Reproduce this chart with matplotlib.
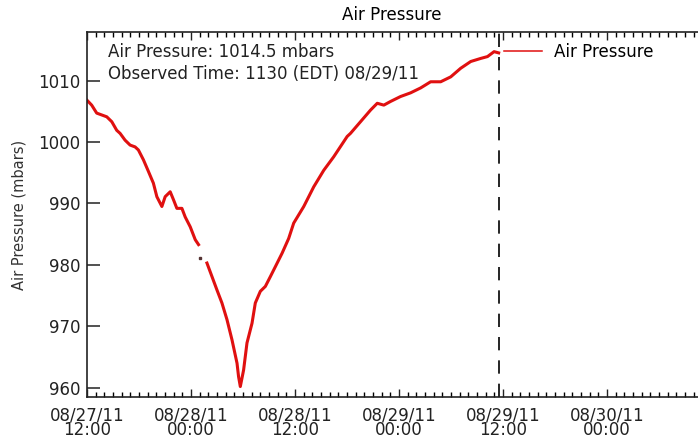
import numpy as np
import pandas as pd
import matplotlib
matplotlib.use("Agg")
import matplotlib.pyplot as plt
import matplotlib.dates as mdates

# hours after 08/27/11 12:00 EDT, pressure in mbars
hours = [0.0, 0.54, 1.12, 1.70, 2.28, 2.86, 3.43, 3.82, 4.39, 4.97, 5.55, 5.93,
         6.51, 7.09, 7.66, 8.06, 8.64, 9.02, 9.60, 9.98, 10.37, 10.95, 11.33, 11.91,
         12.49, 12.87, 13.0,
         13.84, 14.42, 15.0, 15.57, 16.15, 16.73, 17.31, 17.49, 17.69, 18.07, 18.46,
         19.04, 19.42, 20.0, 20.58, 21.16, 21.73, 22.51, 23.27, 23.85, 25.01, 26.16,
         27.32, 28.47, 30.02, 30.40, 31.56, 32.72, 33.49, 34.25, 35.03, 36.18, 37.34,
         38.5, 39.65, 40.81, 41.97, 43.12, 44.28, 45.43, 46.21, 46.97, 47.5]
pressure = [1006.8, 1006.0, 1004.7, 1004.4, 1004.1, 1003.3, 1001.9, 1001.4, 1000.3,
            999.5, 999.2, 998.7, 997.1, 995.2, 993.3, 991.1, 989.5, 991.1, 991.9,
            990.6, 989.2, 989.2, 987.8, 986.2, 984.1, 983.3, np.nan,
            980.3, 978.1, 975.9, 973.8, 971.1, 967.8, 964.0, 961.8, 960.2, 962.9,
            967.3, 970.5, 973.8, 975.7, 976.5, 978.1, 979.7, 981.9, 984.3, 986.8,
            989.5, 992.7, 995.4, 997.6, 1000.9, 1001.4, 1003.3, 1005.2, 1006.3,
            1006.0, 1006.6, 1007.4, 1008.0, 1008.8, 1009.8, 1009.8, 1010.6, 1012.0,
            1013.1, 1013.6, 1013.9, 1014.7, 1014.5]
# lone reading inside the gap
lone_hour = [13.06]
lone_pressure = [981.2]

start = pd.Timestamp("2011-08-27 12:00")
end = pd.Timestamp("2011-08-30 12:00")
observed = pd.Timestamp("2011-08-29 11:30")
current = 1014.5

times = start + pd.to_timedelta(hours, unit="h")
lone_times = start + pd.to_timedelta(lone_hour, unit="h")
major_times = pd.date_range(start, "2011-08-30 00:00", freq="12h")

W, H = 698, 440
fig = plt.figure(figsize=(W / 100, H / 100), dpi=100)
# axes runs a bit past the right edge of the picture, like the original
ax = fig.add_axes([87 / W, 1 - 397 / H, (711 - 87) / W, (397 - 32) / H])

red = "#e01010"
ax.plot(times, pressure, color=red, lw=2.2, label="Air Pressure")
ax.plot(lone_times, lone_pressure, ls="none", marker="s", ms=1.5, color="#553333")
ax.axvline(observed, color="black", lw=1.2, ls=(0, (8, 6)))

ax.set_xlim(start, end)
ax.set_ylim(958.5, 1017.9)
ax.set_yticks([960, 970, 980, 990, 1000, 1010])

ax.set_xticks(major_times)
ax.xaxis.set_minor_locator(mdates.HourLocator())
ax.xaxis.set_major_formatter(mdates.DateFormatter("%m/%d/%y\n%H:%M"))

ax.tick_params(axis="x", which="major", direction="in", length=6, width=1.0,
               top=True, labelsize=12, pad=7, colors="#222222")
ax.tick_params(axis="x", which="minor", direction="in", length=3.5, width=1.0, top=True)
ax.tick_params(axis="y", which="major", direction="in", length=9.5, width=1.1,
               right=True, labelsize=12, pad=5, colors="#222222")
for lab in ax.get_xticklabels():
    lab.set_linespacing(0.75)
for s in ax.spines.values():
    s.set_linewidth(1.2)
    s.set_color("#222222")

ax.set_ylabel("Air Pressure (mbars)", fontsize=10.5, labelpad=8, color="#333333")
fig.text(392 / W, 1 - 15 / H, "Air Pressure", ha="center", va="center", fontsize=12)

fig.text(108 / W, 1 - 52 / H, f"Air Pressure: {current} mbars", ha="left", va="center",
         fontsize=12, color="#222222")
fig.text(108 / W, 1 - 74 / H, "Observed Time: 1130 (EDT) 08/29/11", ha="left",
         va="center", fontsize=12, color="#222222")

leg = ax.legend(loc="upper left", bbox_to_anchor=(504 / W, 1 - 43 / H),
                bbox_transform=fig.transFigure, frameon=False, fontsize=12,
                handlelength=2.3, handletextpad=0.7, borderpad=0, borderaxespad=0)
for ln in leg.get_lines():
    ln.set_linewidth(1.1)

fig.savefig("out.png", dpi=100)
